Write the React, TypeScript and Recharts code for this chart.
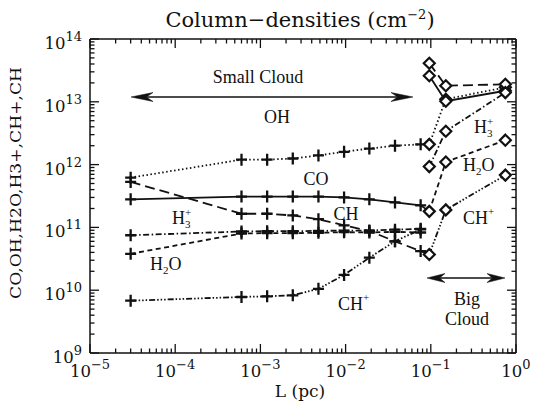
import { LineChart, Line, XAxis, YAxis } from "recharts";

// L (pc) positions
const smallL = [3e-5, 6e-4, 1.2e-3, 2.4e-3, 4.8e-3, 9.6e-3, 1.9e-2, 3.8e-2, 7.6e-2];
const bigL = [0.096, 0.15, 0.75];
// OH, CO and CH small-cloud curves run on to the first big-cloud column
const joinL = 0.096;

// small cloud (+ markers)
const smallOH = [6.2e11, 1.2e12, 1.2e12, 1.25e12, 1.4e12, 1.6e12, 1.8e12, 2.0e12, 2.1e12, 2.1e12];
const smallCO = [2.8e11, 3.1e11, 3.1e11, 3.1e11, 3.1e11, 3.0e11, 2.8e11, 2.5e11, 2.25e11, 1.8e11];
const smallCH = [5.3e11, 1.65e11, 1.65e11, 1.55e11, 1.35e11, 1.08e11, 8.8e10, 6.0e10, 4.2e10, 3.7e10];
const smallH3 = [7.5e10, 8.6e10, 8.7e10, 8.7e10, 8.8e10, 8.9e10, 8.9e10, 9.2e10, 9.5e10];
const smallH2O = [3.8e10, 8.0e10, 8.1e10, 8.1e10, 8.2e10, 8.4e10, 8.3e10, 8.5e10, 8.3e10];
const smallCHp = [6.8e9, 7.8e9, 8.0e9, 8.3e9, 1.05e10, 1.75e10, 3.3e10, 6.0e10, 9.3e10];

// big cloud (diamonds)
const bigOH = [2.1e12, 1.1e13, 1.7e13];
const bigCO = [2.6e13, 1.02e13, 1.5e13];
const bigCH = [4.1e13, 1.8e13, 1.9e13];
const bigH3 = [9.3e11, 3.4e12, 1.4e13];
const bigH2O = [1.8e11, 1.1e12, 2.45e12];
const bigCHp = [3.7e10, 1.9e11, 6.8e11];

const xExp = [-5, -4, -3, -2, -1, 0];
const yExp = [9, 10, 11, 12, 13, 14];

const INK = "#111";
const TICKFONT = "DejaVu Serif";
const NOTEFONT = "Liberation Serif";

function logTicks(exps: number[]) {
  const out: number[] = [];
  exps.forEach((e, i) => {
    out.push(Math.pow(10, e));
    if (i < exps.length - 1) for (let m = 2; m <= 9; m++) out.push(m * Math.pow(10, e));
  });
  return out;
}
const xTicks = logTicks(xExp);
const yTicks = logTicks(yExp);

const SMALL = [...smallL, joinL];
const pts = (xs: number[], ys: number[]) => ys.map((v, i) => ({ L: xs[i], v }));

function decade(v: number) {
  const e = Math.round(Math.log10(v));
  return { e, major: Math.abs(Math.log10(v) - e) < 1e-6 };
}
const expText = (e: number) => (e < 0 ? "\u2212" + -e : String(e));

function BottomTick(p: any) {
  const { x, y, payload } = p;
  const { e, major } = decade(payload.value);
  return (
    <g>
      <line x1={x} x2={x} y1={y} y2={y - (major ? 9 : 4.5)} stroke={INK} strokeWidth={1.3} />
      {major && (
        <text x={x} y={y + 24} textAnchor="middle" fontFamily={TICKFONT} fontSize={16.5} fill={INK}>
          10<tspan dy={-8} fontSize={13}>{expText(e)}</tspan>
        </text>
      )}
    </g>
  );
}
function TopTick(p: any) {
  const { x, y, payload } = p;
  const { major } = decade(payload.value);
  return <line x1={x} x2={x} y1={y} y2={y + (major ? 9 : 4.5)} stroke={INK} strokeWidth={1.3} />;
}
function LeftTick(p: any) {
  const { x, y, payload } = p;
  const { e, major } = decade(payload.value);
  return (
    <g>
      <line x1={x} x2={x + (major ? 9 : 4.5)} y1={y} y2={y} stroke={INK} strokeWidth={1.3} />
      {major && (
        <text x={x - 8} y={y + 10} textAnchor="end" fontFamily={TICKFONT} fontSize={16.5} fill={INK}>
          10<tspan dy={-8} fontSize={13}>{expText(e)}</tspan>
        </text>
      )}
    </g>
  );
}
function RightTick(p: any) {
  const { x, y, payload } = p;
  const { major } = decade(payload.value);
  return <line x1={x} x2={x - (major ? 9 : 4.5)} y1={y} y2={y} stroke={INK} strokeWidth={1.3} />;
}

const plusDot = (count: number) => (p: any) => {
  const { cx, cy, index } = p;
  if (index >= count || cx == null) return <g key={`p-${index}`} />;
  return (
    <path key={`p-${index}`} d={`M${cx - 5.5},${cy}H${cx + 5.5}M${cx},${cy - 6}V${cy + 6}`}
      stroke={INK} strokeWidth={2.3} fill="none" />
  );
};
const diamondDot = (p: any) => {
  const { cx, cy, index } = p;
  const r = 5.5;
  return (
    <path key={`d-${index}`} d={`M${cx},${cy - r}L${cx + r},${cy}L${cx},${cy + r}L${cx - r},${cy}Z`}
      fill="#fff" stroke={INK} strokeWidth={2.2} />
  );
};

const DASH = {
  OH: "1.5 2.5",
  CO: undefined,
  CH: "10 5",
  H2O: "5 3.5",
  H3: "6 2.5 1.5 2.5",
  CHp: "6 2 1.5 2 1.5 2 1.5 2",
};

const smallSeries = [
  { name: "OH", data: pts(SMALL, smallOH), dash: DASH.OH },
  { name: "CO", data: pts(SMALL, smallCO), dash: DASH.CO },
  { name: "CH", data: pts(SMALL, smallCH), dash: DASH.CH },
  { name: "H3", data: pts(smallL, smallH3), dash: DASH.H3 },
  { name: "H2O", data: pts(smallL, smallH2O), dash: DASH.H2O },
  { name: "CHp", data: pts(smallL, smallCHp), dash: DASH.CHp },
];
const bigSeries = [
  { name: "OH", data: pts(bigL, bigOH), dash: DASH.OH },
  { name: "CO", data: pts(bigL, bigCO), dash: DASH.CO },
  { name: "CH", data: pts(bigL, bigCH), dash: DASH.CH },
  { name: "H3", data: pts(bigL, bigH3), dash: DASH.H3 },
  { name: "H2O", data: pts(bigL, bigH2O), dash: DASH.H2O },
  { name: "CHp", data: pts(bigL, bigCHp), dash: DASH.CHp },
];

// H with subscript 3 and superscript + stacked over it
function H3p({ x, y }: { x: number; y: number }) {
  return (
    <g fontFamily={NOTEFONT} fill={INK}>
      <text x={x} y={y} fontSize={18}>H</text>
      <text x={x + 13} y={y + 4} fontSize={11}>3</text>
      <text x={x + 13} y={y - 8} fontSize={11}>+</text>
    </g>
  );
}
function H2O({ x, y }: { x: number; y: number }) {
  return (
    <text x={x} y={y} fontFamily={NOTEFONT} fontSize={18} fill={INK}>
      H<tspan dy={4} fontSize={11}>2</tspan><tspan dy={-4}>O</tspan>
    </text>
  );
}
function CHp({ x, y }: { x: number; y: number }) {
  return (
    <text x={x} y={y} fontFamily={NOTEFONT} fontSize={18} fill={INK}>
      CH<tspan dy={-9} fontSize={11}>+</tspan>
    </text>
  );
}
function Arrow({ x1, x2, y, head }: { x1: number; x2: number; y: number; head: number }) {
  const w = 4.5;
  const n = head * 0.7;
  return (
    <g fill={INK} stroke={INK}>
      <line x1={x1 + n} x2={x2 - n} y1={y} y2={y} strokeWidth={1.4} />
      <path d={`M${x1},${y}L${x1 + head},${y - w}L${x1 + n},${y}L${x1 + head},${y + w}Z`} strokeWidth={0.5} />
      <path d={`M${x2},${y}L${x2 - head},${y - w}L${x2 - n},${y}L${x2 - head},${y + w}Z`} strokeWidth={0.5} />
    </g>
  );
}

const axisLine = { stroke: INK, strokeWidth: 1.5 };

export default function App() {
  return (
    <div style={{ position: "absolute", left: 0, top: 0, width: 533, height: 408, background: "#fff" }}>
      <LineChart width={533} height={408} margin={{ top: 38, right: 16, bottom: 54, left: 89 }}>
        <XAxis xAxisId={0} dataKey="L" type="number" scale="log" domain={[1e-5, 1]} allowDataOverflow
          ticks={xTicks} interval={0} height={1} tickSize={0} tickMargin={0}
          axisLine={axisLine} tickLine={false} tick={BottomTick} />
        <XAxis xAxisId="top" orientation="top" dataKey="L" type="number" scale="log" domain={[1e-5, 1]}
          allowDataOverflow ticks={xTicks} interval={0} height={1} tickSize={0} tickMargin={0}
          axisLine={axisLine} tickLine={false} tick={TopTick} />
        <YAxis yAxisId={0} type="number" scale="log" domain={[1e9, 1e14]} allowDataOverflow
          ticks={yTicks} interval={0} width={1} tickSize={0} tickMargin={0}
          axisLine={axisLine} tickLine={false} tick={LeftTick} />
        <YAxis yAxisId="right" orientation="right" type="number" scale="log" domain={[1e9, 1e14]}
          allowDataOverflow ticks={yTicks} interval={0} width={1} tickSize={0} tickMargin={0}
          axisLine={axisLine} tickLine={false} tick={RightTick} />
        {smallSeries.map((s) => (
          <Line key={`s-${s.name}`} data={s.data} dataKey="v" xAxisId={0} yAxisId={0}
            stroke={INK} strokeWidth={1.8} strokeDasharray={s.dash} type="linear"
            dot={plusDot(smallL.length)} activeDot={false} isAnimationActive={false} />
        ))}
        {bigSeries.map((s) => (
          <Line key={`b-${s.name}`} data={s.data} dataKey="v" xAxisId={0} yAxisId={0}
            stroke={INK} strokeWidth={1.8} strokeDasharray={s.dash} type="linear"
            dot={diamondDot} activeDot={false} isAnimationActive={false} />
        ))}
      </LineChart>
      <svg width={533} height={408} style={{ position: "absolute", left: 0, top: 0, pointerEvents: "none" }}>
        <text x={300} y={27} textAnchor="middle" fontFamily={TICKFONT} fontSize={21} fill={INK}>
          Column{"\u2212"}densities (cm<tspan dy={-8} fontSize={13}>{"\u2212"}2</tspan>
          <tspan dy={8}>)</tspan>
        </text>
        <text x={300} y={397} textAnchor="middle" fontFamily={TICKFONT} fontSize={17} fill={INK}>L (pc)</text>
        <text transform="translate(21,183) rotate(-90)" textAnchor="middle" fontFamily={TICKFONT}
          fontSize={15} fill={INK} textLength={232} lengthAdjust="spacingAndGlyphs">
          CO,OH,H2O,H3+,CH+,CH
        </text>

        <text x={258} y={83} textAnchor="middle" fontFamily={NOTEFONT} fontSize={18} fill={INK}>Small Cloud</text>
        <Arrow x1={131} x2={413} y={97} head={22} />
        <text x={277} y={123} textAnchor="middle" fontFamily={NOTEFONT} fontSize={18} fill={INK}>OH</text>
        <text x={316} y={185} textAnchor="middle" fontFamily={NOTEFONT} fontSize={18} fill={INK}>CO</text>
        <text x={346} y={220} textAnchor="middle" fontFamily={NOTEFONT} fontSize={18} fill={INK}>CH</text>
        <H3p x={172} y={224} />
        <H2O x={150} y={270} />
        <CHp x={338} y={310} />
        <H3p x={474} y={133} />
        <H2O x={463} y={171} />
        <CHp x={463} y={224} />
        <Arrow x1={427} x2={505} y={278} head={18} />
        <text x={467} y={305} textAnchor="middle" fontFamily={NOTEFONT} fontSize={18} fill={INK}>Big</text>
        <text x={467} y={325} textAnchor="middle" fontFamily={NOTEFONT} fontSize={18} fill={INK}>Cloud</text>
      </svg>
    </div>
  );
}
